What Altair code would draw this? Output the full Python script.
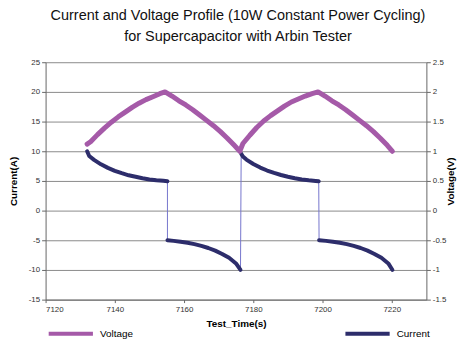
import altair as alt
import pandas as pd

# ---- data ----
cur_t_c1 = [7132.0, 7132.6, 7134, 7136, 7138, 7140, 7142, 7144, 7146, 7148, 7150, 7152, 7154, 7155.2]
cur_v_c1 = [10.0, 9.2, 8.55, 7.8, 7.2, 6.7, 6.3, 5.95, 5.7, 5.45, 5.25, 5.12, 5.02, 4.95]
cur_t_d1 = [7155.2, 7157, 7159, 7161, 7163, 7165, 7167, 7169, 7171, 7173, 7175, 7176.3]
cur_v_d1 = [-5.0, -5.1, -5.25, -5.42, -5.65, -5.95, -6.3, -6.75, -7.3, -7.95, -8.9, -10.0]
cur_t_c2 = [7176.5, 7177, 7178, 7180, 7182, 7184, 7186, 7188, 7190, 7192, 7194, 7196, 7198, 7198.9]
cur_v_c2 = [9.6, 9.1, 8.6, 7.85, 7.25, 6.75, 6.35, 6.0, 5.7, 5.45, 5.25, 5.1, 5.0, 4.95]
cur_t_d2 = [7199.0, 7201, 7203, 7205, 7207, 7209, 7211, 7213, 7215, 7217, 7219, 7220.2]
cur_v_d2 = [-5.0, -5.1, -5.25, -5.42, -5.65, -5.95, -6.3, -6.75, -7.3, -7.95, -8.9, -10.0]

volt_t = [7132.0, 7133, 7135, 7137, 7139, 7141, 7143, 7145, 7147, 7149, 7151, 7153, 7154.5,
          7156.5, 7158.5, 7160.5, 7162.5, 7164.5, 7166.5, 7168.5, 7170.5, 7172.5, 7174.5, 7176.1,
          7177, 7179, 7181, 7183, 7185, 7187, 7189, 7191, 7193, 7195, 7197, 7198.7,
          7200.7, 7202.7, 7204.7, 7206.7, 7208.7, 7210.7, 7212.7, 7214.7, 7216.7, 7218.7, 7220.2]
volt_v = [1.12, 1.16, 1.28, 1.39, 1.49, 1.58, 1.66, 1.74, 1.81, 1.87, 1.92, 1.97, 2.0,
          1.93, 1.85, 1.78, 1.70, 1.61, 1.52, 1.43, 1.33, 1.22, 1.10, 1.0,
          1.13, 1.27, 1.40, 1.51, 1.60, 1.68, 1.76, 1.83, 1.88, 1.93, 1.97, 2.0,
          1.93, 1.85, 1.78, 1.70, 1.61, 1.52, 1.43, 1.33, 1.22, 1.10, 1.0]

x_ticks = [7120, 7140, 7160, 7180, 7200, 7220]
cur_ticks = [-15, -10, -5, 0, 5, 10, 15, 20, 25]
volt_ticks = [-1.5, -1, -0.5, 0, 0.5, 1, 1.5, 2, 2.5]

# ---- tables ----
segs = [("c1", cur_t_c1, cur_v_c1), ("d1", cur_t_d1, cur_v_d1),
        ("c2", cur_t_c2, cur_v_c2), ("d2", cur_t_d2, cur_v_d2)]
rows = []
for name, ts, vs in segs:
    for t, v in zip(ts, vs):
        rows.append({"t": t, "I": v, "seg": name, "series": "Current"})
cur_df = pd.DataFrame(rows)
cur_df["order"] = range(len(cur_df))
volt_df = pd.DataFrame({"t": volt_t, "V": volt_v, "series": "Voltage"})

FONT = "Liberation Sans"
NAVY = "#2d2d6b"
PURPLE = "#a55aa8"

x_axis = alt.Axis(values=x_ticks, title="Test_Time(s)", grid=False,
                  labelExpr="datum.value + ''", tickSize=3, labelPadding=3,
                  titlePadding=5)
x_enc = alt.X("t:Q", scale=alt.Scale(domain=[7120, 7230], nice=False, zero=False), axis=x_axis)

cur_axis = alt.Axis(values=cur_ticks, title="Current(A)", grid=True, orient="left",
                    labelExpr="datum.value + ''", tickSize=4, labelPadding=2,
                    titlePadding=10)
cur_scale = alt.Scale(domain=[-15, 25], nice=False, zero=False)

thin = alt.Chart(cur_df).mark_line(color="#7474cc", strokeWidth=1).encode(
    x=x_enc,
    y=alt.Y("I:Q", scale=cur_scale, axis=cur_axis),
    order="order:Q",
)

thick = alt.Chart(cur_df).mark_line(strokeWidth=4, strokeCap="round", strokeJoin="round").encode(
    x=x_enc,
    y=alt.Y("I:Q", scale=cur_scale, axis=cur_axis),
    detail="seg:N",
    order="order:Q",
    color=alt.Color("series:N", scale=alt.Scale(domain=["Current"], range=[NAVY]),
                    legend=alt.Legend(orient="none", legendX=301, legendY=250, title=None,
                                      symbolType="stroke", symbolSize=2000,
                                      symbolStrokeWidth=4, labelFontSize=10,
                                      labelFont=FONT, labelColor="#000", padding=0,
                                      labelOffset=5)),
)

current = alt.layer(thin, thick)

volt = alt.Chart(volt_df).mark_line(strokeWidth=5, strokeCap="round", strokeJoin="round").encode(
    x=x_enc,
    y=alt.Y("V:Q", scale=alt.Scale(domain=[-1.5, 2.5], nice=False, zero=False),
            axis=alt.Axis(values=volt_ticks, title="Voltage(V)", grid=False, orient="right",
                          labelExpr="datum.value + ''", tickSize=4, labelPadding=2,
                          titleAngle=270, titlePadding=10)),
    color=alt.Color("series:N", scale=alt.Scale(domain=["Voltage"], range=[PURPLE]),
                    legend=alt.Legend(orient="none", legendX=1, legendY=250, title=None,
                                      symbolType="stroke", symbolSize=2000,
                                      symbolStrokeWidth=4, labelFontSize=10,
                                      labelFont=FONT, labelColor="#000", padding=0,
                                      labelOffset=5)),
)

chart = alt.layer(current, volt).resolve_scale(
    y="independent", color="independent"
).properties(
    width=385, height=240,
    title=alt.Title(["Current and Voltage Profile (10W Constant Power Cycling)",
                     "for Supercapacitor with Arbin Tester"],
                    font=FONT, fontSize=14.6, fontWeight="normal", color="#111",
                    anchor="middle", offset=15, lineHeight=21, dx=2),
    autosize=alt.AutoSizeParams(type="none"),
    padding={"left": 38, "top": 53, "right": 36, "bottom": 40},
).configure_view(stroke=None).configure_axis(
    labelFont=FONT, labelFontSize=8, labelColor="#333",
    titleFont=FONT, titleFontSize=10, titleFontWeight="bold", titleColor="#000",
    domainColor="#666", tickColor="#666", gridColor="#8a8a8a", gridWidth=1,
)

chart.save("out.html", embed_options={"renderer": "svg", "actions": False})
